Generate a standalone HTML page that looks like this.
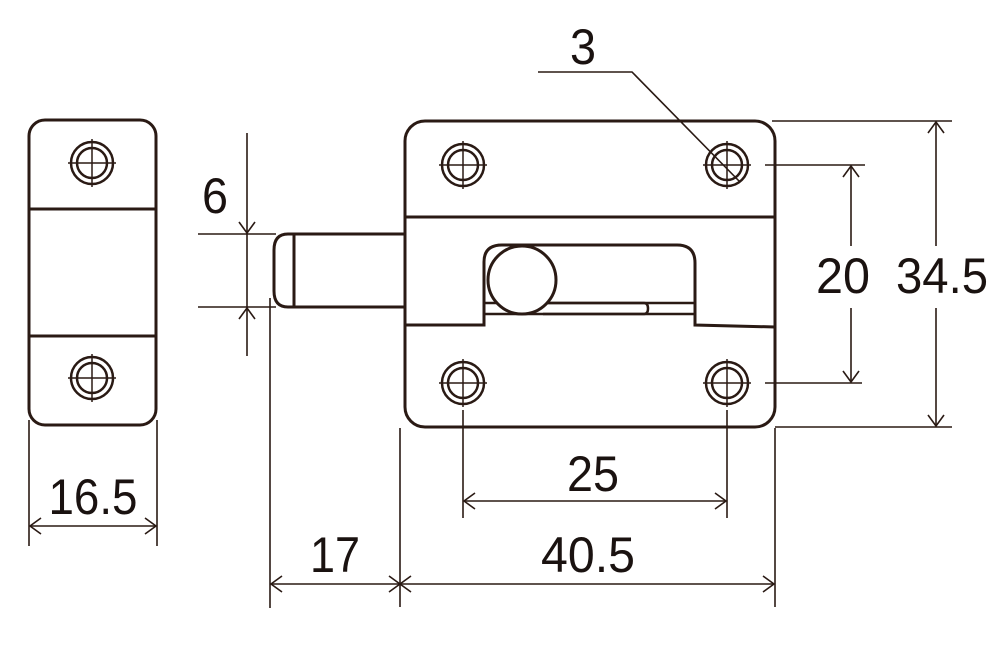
<!DOCTYPE html>
<html><head><style>html,body{margin:0;padding:0;background:#fff;}svg{display:block}</style></head>
<body>
<svg width="1000" height="645" viewBox="0 0 1000 645" xmlns="http://www.w3.org/2000/svg">
<defs>
<g id="hole" fill="none" stroke="#2a1a14">
<circle r="21" stroke-width="2.5"/><circle r="15" stroke-width="2.5"/>
<line x1="-24" y1="0" x2="24" y2="0" stroke-width="1.5"/><line x1="0" y1="-24" x2="0" y2="24" stroke-width="1.5"/>
</g>
<g id="ahR" fill="none" stroke="#2a1a14" stroke-width="1.6"><polyline points="-9,-8 0,0 -9,8"/></g>
</defs>
<g fill="none" stroke="#2a1a14" stroke-width="3">
<!-- left piece -->
<rect x="29" y="120" width="127" height="305" rx="16"/>
<line x1="29" y1="209" x2="156" y2="209"/>
<line x1="29" y1="336" x2="156" y2="336"/>
<!-- bolt -->
<path d="M404,234 H294 V307 H404"/>
<path d="M294,234 H288 Q274,234 274,250 V291 Q274,307 288,307 H294"/>
<!-- main body -->
<rect x="405" y="121" width="370" height="306" rx="20"/>
<line x1="405" y1="217" x2="775" y2="217"/>
<path d="M405,325 H484 V262 Q484,245 502,245 H677 Q695,245 695,263 V325 L775,327"/>
<line x1="484" y1="303" x2="695" y2="303" stroke-width="2.5"/>
<line x1="484" y1="314" x2="695" y2="314" stroke-width="2.5"/>
<path d="M543,303 H644 Q648,303 648,308.5 Q648,314 644,314 H543" stroke-width="2.5"/>
<circle cx="522" cy="280" r="34" fill="#fff"/>
</g>
<use href="#hole" x="92" y="163"/>
<use href="#hole" x="92" y="378"/>
<use href="#hole" x="463" y="165"/>
<use href="#hole" x="727" y="165"/>
<use href="#hole" x="463" y="383"/>
<use href="#hole" x="727" y="383"/>
<g fill="none" stroke="#2a1a14" stroke-width="1.6">
<!-- 3 leader -->
<polyline points="538,72 632,72 740,182"/>
<!-- 6 -->
<line x1="247" y1="133" x2="247" y2="356"/>
<line x1="198" y1="234" x2="276" y2="234"/>
<line x1="198" y1="307" x2="276" y2="307"/>
<polyline points="239,222 247,233 255,222"/>
<polyline points="239,319 247,308 255,319"/>
<!-- right dims -->
<line x1="772" y1="121" x2="952" y2="121"/>
<line x1="765" y1="165" x2="865" y2="165"/>
<line x1="765" y1="383" x2="862" y2="383"/>
<line x1="775" y1="427" x2="952" y2="427"/>
<line x1="851" y1="166" x2="851" y2="246"/><line x1="851" y1="308" x2="851" y2="382"/>
<polyline points="843,177 851,166 859,177"/><polyline points="843,371 851,382 859,371"/>
<line x1="936" y1="122" x2="936" y2="246"/><line x1="936" y1="308" x2="936" y2="426"/>
<polyline points="928,133 936,122 944,133"/><polyline points="928,415 936,426 944,415"/>
<!-- bottom dims -->
<line x1="463" y1="410" x2="463" y2="518"/>
<line x1="727" y1="410" x2="727" y2="518"/>
<line x1="464" y1="501" x2="726" y2="501"/>
<polyline points="475,493 464,501 475,509"/><polyline points="715,493 726,501 715,509"/>
<line x1="270" y1="298" x2="270" y2="608"/>
<line x1="400" y1="428" x2="400" y2="607"/>
<line x1="775" y1="428" x2="775" y2="607"/>
<line x1="271" y1="584" x2="774" y2="584"/>
<polyline points="282,576 271,584 282,592"/>
<polyline points="389,576 400,584 389,592"/><polyline points="411,576 400,584 411,592"/>
<polyline points="763,576 774,584 763,592"/>
<line x1="29" y1="420" x2="29" y2="546"/>
<line x1="157" y1="420" x2="157" y2="546"/>
<line x1="30" y1="526" x2="156" y2="526"/>
<polyline points="41,518 30,526 41,534"/><polyline points="145,518 156,526 145,534"/>
</g>
<g fill="#1a1210" font-family="'Liberation Sans', sans-serif" font-size="50" text-anchor="middle">
<text x="583" y="64" textLength="26" lengthAdjust="spacingAndGlyphs">3</text>
<text x="215" y="213" textLength="26" lengthAdjust="spacingAndGlyphs">6</text>
<text x="843" y="293" textLength="54" lengthAdjust="spacingAndGlyphs">20</text>
<text x="942" y="293" textLength="92" lengthAdjust="spacingAndGlyphs">34.5</text>
<text x="593" y="491" textLength="52" lengthAdjust="spacingAndGlyphs">25</text>
<text x="335" y="572" textLength="50" lengthAdjust="spacingAndGlyphs">17</text>
<text x="588" y="572" textLength="94" lengthAdjust="spacingAndGlyphs">40.5</text>
<text x="93" y="514" textLength="89" lengthAdjust="spacingAndGlyphs">16.5</text>
</g>
</svg>
</body></html>
